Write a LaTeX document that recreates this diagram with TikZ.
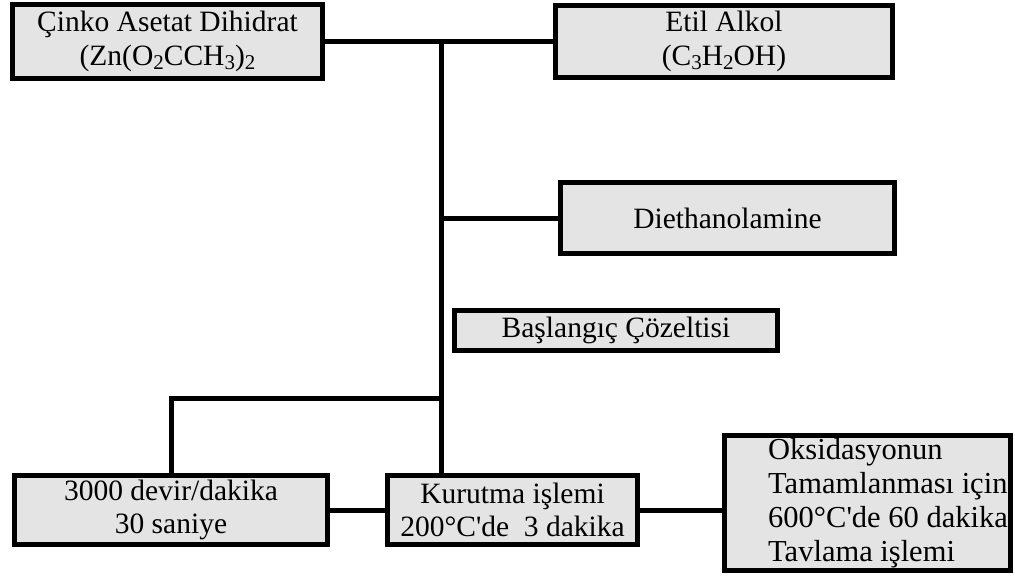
\documentclass[tikz,border=0pt]{standalone}
\usepackage{fontspec}
\setmainfont{Liberation Serif}
\newcommand\sbs[1]{\raisebox{-0.15em}{\fontsize{21}{21}\selectfont #1}}
\definecolor{boxfill}{RGB}{228,228,228}
\begin{document}
\begin{tikzpicture}[x=1pt,y=-1pt,
  box/.style={draw=black, line width=5pt, fill=boxfill, inner sep=0pt, align=center, font=\fontsize{29.5}{33.5}\selectfont},
  plain/.style={inner sep=0pt, align=left, font=\fontsize{30.5}{34}\selectfont},
  conn/.style={line width=5pt}]
\useasboundingbox (0,0) rectangle (1015,582);
\node[box, minimum width=310pt, minimum height=74pt] (cinko) at (167.5,41.5) {Çinko Asetat Dihidrat\\(Zn(O\sbs{2}CCH\sbs{3})\sbs{2}};
\node[box, minimum width=337pt, minimum height=72pt] (etil) at (724,41.5) {Etil Alkol\\(C\sbs{3}H\sbs{2}OH)};
\node[box, minimum width=334pt, minimum height=71pt] (diet) at (727.5,218) {Diethanolamine};
\node[box, minimum width=323pt, minimum height=40pt] (basl) at (616,330.5) {Başlangıç Çözeltisi};
\node[box, minimum width=313pt, minimum height=69pt] (devir) at (171,510) {3000 devir/dakika\\30 saniye};
\node[box, minimum width=250pt, minimum height=69pt] (kur) at (512.5,510) {Kurutma işlemi\\200°C\textquotesingle de\ \ 3 dakika};
\node[box, minimum width=286pt, minimum height=135pt] (oks) at (867.5,503) {};
\node[plain, anchor=west] (okstext) at (768,503) {Oksidasyonun\\Tamamlanması için\\600°C\textquotesingle de 60 dakika\\Tavlama işlemi};
\coordinate (t1) at (441,41.5);
\coordinate (br) at (441,398);
\draw[conn] (cinko.east) -- (etil.west);
\draw[conn] (t1) -- (t1 |- kur.north);
\draw[conn] (t1 |- diet.west) -- (diet.west);
\draw[conn] (br) -- (br -| devir.north) -- (devir.north);
\draw[conn] (devir.east) -- (kur.west);
\draw[conn] (kur.east) -- (kur.east -| oks.west);
\end{tikzpicture}
\end{document}
